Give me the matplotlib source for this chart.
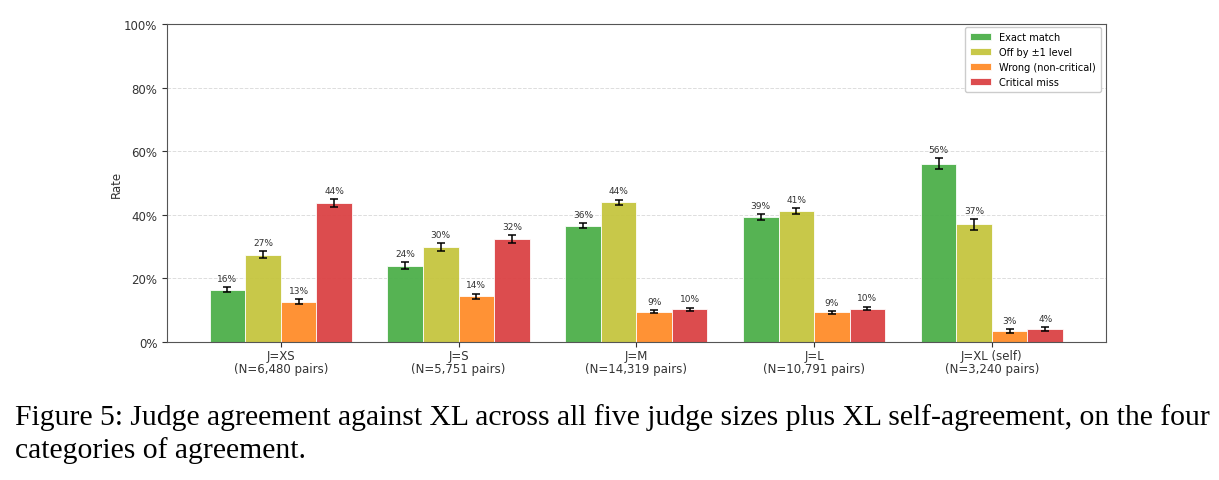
import matplotlib
matplotlib.use("Agg")
import matplotlib.pyplot as plt
import numpy as np

groups = ["J=XS\n(N=6,480 pairs)", "J=S\n(N=5,751 pairs)", "J=M\n(N=14,319 pairs)",
          "J=L\n(N=10,791 pairs)", "J=XL (self)\n(N=3,240 pairs)"]
series = ["Exact match", "Off by \u00b11 level", "Wrong (non-critical)", "Critical miss"]
exact = [16.4, 23.9, 36.6, 39.4, 56.1]
off1 = [27.5, 29.9, 44.0, 41.2, 37.0]
wrong = [12.7, 14.3, 9.5, 9.3, 3.4]
critical = [43.8, 32.4, 10.3, 10.5, 4.0]
exact_err = [0.8, 1.1, 0.8, 0.9, 1.7]
off1_err = [1.1, 1.2, 0.8, 1.0, 1.7]
wrong_err = [0.8, 0.9, 0.5, 0.5, 0.6]
critical_err = [1.2, 1.2, 0.5, 0.6, 0.7]
colors = ["#4daf4a", "#c5c53f", "#ff8c2a", "#db4244"]
labels_pct = [[16, 24, 36, 39, 56], [27, 30, 44, 41, 37], [13, 14, 9, 9, 3], [44, 32, 10, 10, 4]]

vals = [exact, off1, wrong, critical]
errs = [exact_err, off1_err, wrong_err, critical_err]

fig = plt.figure(figsize=(12.19, 4.81), dpi=100)
ax = fig.add_axes([0.137, 0.287, 0.770, 0.661])
x = np.arange(len(groups))
w = 0.2
for i, (v, e, c, name) in enumerate(zip(vals, errs, colors, series)):
    pos = x + (i - 1.5) * w
    ax.bar(pos, v, w, color=c, alpha=0.95, edgecolor="white", linewidth=0.6, label=name,
           yerr=e, capsize=3, error_kw=dict(ecolor="black", elinewidth=1.1, capthick=1.1))
    for p, val, err, lab in zip(pos, v, e, labels_pct[i]):
        ax.annotate(f"{lab}%", (p, val + err), xytext=(0, 3), textcoords="offset points",
                    ha="center", va="bottom", fontsize=6.5, color="#333333")

ax.set_ylim(0, 100)
ax.set_yticks([0, 20, 40, 60, 80, 100])
ax.set_yticklabels(["0%", "20%", "40%", "60%", "80%", "100%"])
ax.set_xticks(x)
ax.set_xticklabels(groups, fontsize=8.5, linespacing=1.0)
ax.tick_params(axis="y", labelsize=8.5, colors="#333333")
ax.tick_params(axis="x", colors="#333333", pad=1.5)
ax.set_ylabel("Rate", fontsize=8.5, color="#333333", labelpad=1)
ax.yaxis.grid(True, linestyle="--", color="#dddddd", linewidth=0.7)
ax.set_axisbelow(True)
for s in ax.spines.values():
    s.set_color("#555555")
ax.legend(loc="upper right", fontsize=7, framealpha=1, edgecolor="#cccccc",
          handlelength=2.2, borderpad=0.5, bbox_to_anchor=(1.0, 1.005))

fig.text(0.012, 0.117, "Figure 5: Judge agreement against XL across all five judge sizes plus XL self-agreement, on the four",
         family="Liberation Serif", fontsize=21.3, va="baseline")
fig.text(0.012, 0.048, "categories of agreement.", family="Liberation Serif", fontsize=21.3, va="baseline")

fig.savefig("out.png", dpi=100)
